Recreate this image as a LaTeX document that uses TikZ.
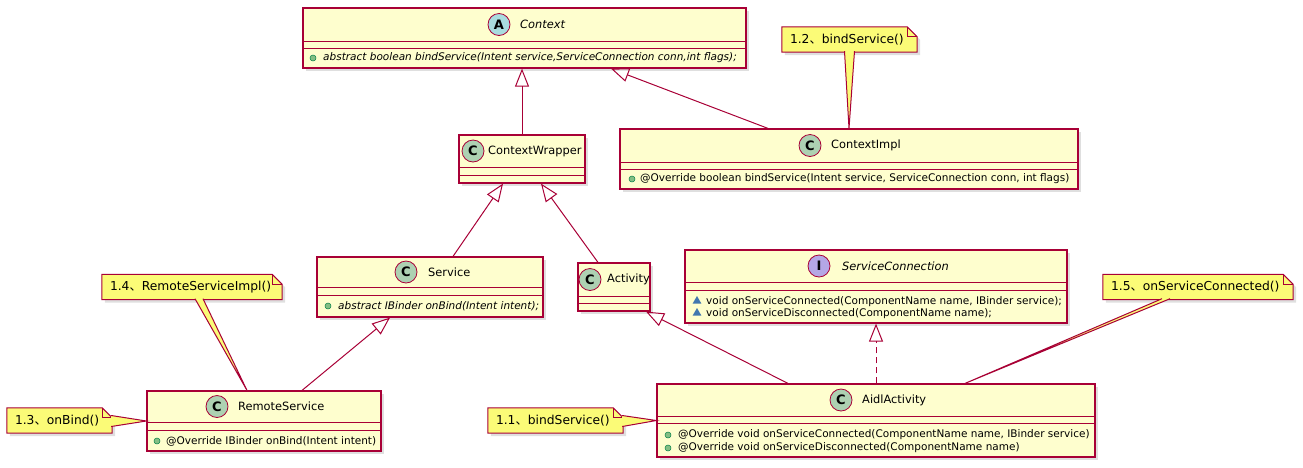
\documentclass[tikz,border=0pt]{standalone}
\usepackage{fontspec}
\setmainfont{DejaVu Sans}
\newfontfamily\cjk{Noto Sans CJK SC}
\usetikzlibrary{arrows.meta,shadows,shapes.geometric,backgrounds}
\definecolor{umlred}{HTML}{A80036}
\definecolor{umlbg}{HTML}{FEFECE}
\definecolor{notebg}{HTML}{FBFB77}
\definecolor{spotc}{HTML}{ADD1B2}
\definecolor{spota}{HTML}{A9DCDF}
\definecolor{spoti}{HTML}{B4A7E5}
\definecolor{pubfill}{HTML}{84BE84}
\definecolor{publine}{HTML}{038048}
\definecolor{pkgfill}{HTML}{4177AF}
\newcommand{\dunhao}{{\cjk 、}}
\begin{document}
\begin{tikzpicture}
	[	x=1pt,y=-1pt,
	umlline/.style={draw=umlred,line width=1pt},
	shade3/.style={drop shadow={shadow xshift=3pt,shadow yshift=-3pt,opacity=.25}},
	cls/.style={draw=umlred,line width=1.2pt,fill=umlbg,inner sep=0,shade3},
	spot/.style={circle,draw=umlred,line width=.8pt,minimum size=22,inner sep=0,font=\fontsize{13}{13}\bfseries},
	cname/.style={anchor=west,inner sep=0,font=\fontsize{11.4}{14}\selectfont},
	aname/.style={cname,font=\fontsize{11.4}{14}\selectfont\itshape},
	member/.style={anchor=west,inner sep=0,font=\fontsize{10.5}{12}\selectfont},
	pubdot/.style={circle,fill=pubfill,draw=publine,line width=.5pt,minimum size=6,inner sep=0},
	pkgtri/.style={regular polygon,regular polygon sides=3,fill=pkgfill,minimum size=10,inner sep=0},
	notebox/.style={inner xsep=8,inner ysep=0,minimum height=25,align=left,font=\fontsize{12.3}{14}\selectfont},
	notefill/.style={fill=notebg,draw=umlred,line width=1pt},
	ext/.style={umlline,-{Triangle[open,length=18pt,width=14pt]}},
	impl/.style={ext,dash pattern=on 6pt off 4pt}
	]
	\useasboundingbox (0,0) rectangle (1303,467);

	% classes
	\node[cls,minimum width=443,minimum height=60] (ctx) at (524.5,38){};
	\node[cls,minimum width=126,minimum height=48] (cwrap) at (522,159){};
	\node[cls,minimum width=458,minimum height=60] (cimpl) at (849,159){};
	\node[cls,minimum width=226,minimum height=60] (svc) at (430,287){};
	\node[cls,minimum width=72,minimum height=48] (act) at (614,287){};
	\node[cls,minimum width=382,minimum height=73] (sconn) at (876,286.5){};
	\node[cls,minimum width=234,minimum height=60] (rsvc) at (264,421){};
	\node[cls,minimum width=438,minimum height=73] (aidl) at (876,420.5){};

	\foreach \c/\a/\b in {ctx/41/48,cwrap/167/175,cimpl/162/169,svc/287/295,act/296/303,sconn/282/290,rsvc/422/430,aidl/416/423}
		\draw[umlline] (\c.west |- 0,\a) -- (\c.east |- 0,\a) (\c.west |- 0,\b) -- (\c.east |- 0,\b);

	\node[spot,fill=spota] (ctxA) at (499,24.5){A};
	\node[aname] at (520,24.5){Context};
	\node[spot,fill=spotc] (cwrapC) at (473,151){C};
	\node[cname] at (488,151){ContextWrapper};
	\node[spot,fill=spotc] (cimplC) at (810,145.5){C};
	\node[cname] at (831,145.5){ContextImpl};
	\node[spot,fill=spotc] (svcC) at (406,272){C};
	\node[cname] at (428,272){Service};
	\node[spot,fill=spotc] (actC) at (590,279.5){C};
	\node[cname] at (607,279.5){Activity};
	\node[spot,fill=spoti] (sconnI) at (819,266){I};
	\node[aname] at (842,266){ServiceConnection};
	\node[spot,fill=spotc] (rsvcC) at (217,406.5){C};
	\node[cname] at (238,406.5){RemoteService};
	\node[spot,fill=spotc] (aidlC) at (841,400){C};
	\node[cname] at (862,400){AidlActivity};

	% members
	\node[pubdot] at (313,58){};
	\node[member] at (323,58){\itshape abstract boolean bindService(Intent service,ServiceConnection conn,int flags);};
	\node[pubdot] at (632,179){};
	\node[member] at (640,179){@Override boolean bindService(Intent service, ServiceConnection conn, int flags)};
	\node[pubdot] at (328,306){};
	\node[member] at (338,306){\itshape abstract IBinder onBind(Intent intent);};
	\node[pkgtri] at (697,301){};
	\node[member] at (706,302){void onServiceConnected(ComponentName name, IBinder service);};
	\node[pkgtri] at (697,313){};
	\node[member] at (706,314){void onServiceDisconnected(ComponentName name);};
	\node[pubdot] at (157,441){};
	\node[member] at (166,441){@Override IBinder onBind(Intent intent)};
	\node[pubdot] at (668,435){};
	\node[member] at (678,435){@Override void onServiceConnected(ComponentName name, IBinder service)};
	\node[pubdot] at (668,448){};
	\node[member] at (678,448){@Override void onServiceDisconnected(ComponentName name)};

	% notes
	\node[notebox,text width=119] (n12) at (849.5,39.5){1.2\dunhao bindService()};
	\node[notebox,text width=174] (n15) at (1198,287){1.5\dunhao onServiceConnected()};
	\node[notebox,text width=164] (n14) at (192,287){1.4\dunhao RemoteServiceImpl()};
	\node[notebox,text width=89] (n13) at (59.5,420.5){1.3\dunhao onBind()};
	\node[notebox,text width=119] (n11) at (555.5,420.5){1.1\dunhao bindService()};
	\begin{scope}[on background layer]
		\foreach \n in {n11,n12,n13,n14,n15}{
			\filldraw[notefill,shade3] (\n.south west) -- (\n.north west) -- ([xshift=-10]\n.north east) -- ([yshift=-10]\n.north east) -- (\n.south east) -- cycle;
			\draw[umlline] ([xshift=-10]\n.north east) |- ([yshift=-10]\n.north east);
		}
	\end{scope}

	\filldraw[notefill] ([xshift=-5,yshift=1]n12.south) -- (cimpl.north) -- ([xshift=5,yshift=1]n12.south);
	\filldraw[notefill] ([xshift=-36,yshift=1]n15.south) -- ([xshift=89]aidl.north) -- ([xshift=-28,yshift=1]n15.south);
	\filldraw[notefill] ([xshift=3,yshift=1]n14.south) -- ([xshift=-17]rsvc.north) -- ([xshift=11,yshift=1]n14.south);
	\filldraw[notefill] ([xshift=-1,yshift=5]n13.east) -- (rsvc.west) -- ([xshift=-1,yshift=-6]n13.east);
	\filldraw[notefill] ([xshift=-1,yshift=5]n11.east) -- (aidl.west) -- ([xshift=-1,yshift=-6]n11.east);

	% relations
	\draw[ext] (cwrap.north) -- (cwrap.north |- ctx.south);
	\draw[ext] ([xshift=-81]cimpl.north) -- ([xshift=86.5]ctx.south);
	\draw[ext] ([xshift=23]svc.north) -- ([xshift=-19]cwrap.south);
	\draw[ext] ([xshift=-16]act.north) -- ([xshift=19]cwrap.south);
	\draw[ext] ([xshift=38]rsvc.north) -- ([xshift=-40]svc.south);
	\draw[ext] ([xshift=-88]aidl.north) -- ([xshift=32]act.south);
	\draw[impl] (aidl.north) -- (aidl.north |- sconn.south);
\end{tikzpicture}
\end{document}
